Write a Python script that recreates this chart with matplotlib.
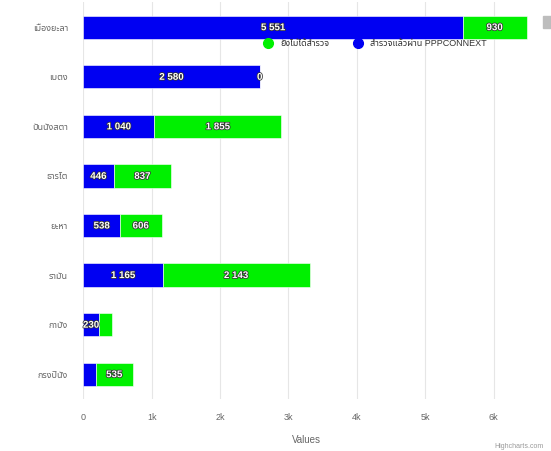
import matplotlib
matplotlib.use("Agg")
import matplotlib.pyplot as plt
import matplotlib.patheffects as pe
from matplotlib.lines import Line2D
from matplotlib.patches import Rectangle

plt.rcParams['font.family'] = ['Liberation Sans', 'Noto Sans Thai', 'DejaVu Sans']

# districts, top to bottom
districts = ['เมืองยะลา', 'เบตง', 'บันนังสตา', 'ธารโต', 'ยะหา', 'รามัน', 'กาบัง', 'กรงปินัง']
# blue series (base of the stack) and green series (stacked on top)
surveyed = [5551, 2580, 1040, 446, 538, 1165, 230, 185]
not_surveyed = [930, 0, 1855, 837, 606, 2143, 190, 535]
series_names = ['ยังไม่ได้สำรวจ', 'สำรวจแล้วผ่าน PPPCONNEXT']
xticks = [0, 1000, 2000, 3000, 4000, 5000, 6000, 7000]
xtick_labels = ['0', '1k', '2k', '3k', '4k', '5k', '6k', '7k']

blue = '#0000f2'
green = '#00f000'

fig = plt.figure(figsize=(5.51, 4.51), dpi=100)
W, H = 551, 451
# plot area in pixels (right edge runs past the image, as in the reference)
left, right, top, bottom = 83.3, 562, 2.4, 399
ax = fig.add_axes([left / W, 1 - bottom / H, (right - left) / W, (bottom - top) / H])

ypos = list(range(len(districts)))
ax.barh(ypos, surveyed, height=0.47, color=blue, edgecolor='white', linewidth=0.4, zorder=3)
ax.barh(ypos, not_surveyed, left=surveyed, height=0.47, color=green,
        edgecolor='white', linewidth=0.4, zorder=3)

outline = [pe.withStroke(linewidth=1.1, foreground='#333333')]

def fmt(v):
    return f'{v:,}'.replace(',', ' ')

# data labels (small segments don't get one, like the source chart)
for i in ypos:
    b, g = surveyed[i], not_surveyed[i]
    if b >= 200:
        ax.text(b / 2, i, fmt(b), ha='center', va='center', color='white',
                fontsize=7, fontweight='bold', path_effects=outline, zorder=5)
    if g >= 200 or g == 0:
        ax.text(b + g / 2, i, fmt(g), ha='center', va='center', color='white',
                fontsize=7, fontweight='bold', path_effects=outline, zorder=5)

ax.set_xlim(0, 7000)
ax.set_ylim(len(districts) - 0.5, -0.5)
ax.set_xticks(xticks)
ax.set_xticklabels(xtick_labels, fontsize=6.5, color='#666666')
ax.set_yticks(ypos)
ax.set_yticklabels(districts, fontsize=6.5, color='#666666')
ax.tick_params(axis='both', length=0)
ax.tick_params(axis='y', pad=11)
ax.tick_params(axis='x', pad=10)
ax.grid(axis='x', color='#e6e6e6', linewidth=0.8, zorder=0)
for s in ax.spines.values():
    s.set_visible(False)
ax.set_xlabel('Values', fontsize=7, color='#666666')
# centre the axis title on the visible part of the axis
ax.xaxis.set_label_coords((306 - left) / (right - left), -0.09)

handles = [
    Line2D([], [], marker='o', linestyle='none', markersize=7, color=green),
    Line2D([], [], marker='o', linestyle='none', markersize=7, color=blue),
]
fig.legend(handles, series_names, loc='center', bbox_to_anchor=(373 / W, 1 - 44 / H),
           ncol=2, frameon=False, fontsize=6.5, handletextpad=0.3, columnspacing=2.2,
           labelcolor='#333333')

# export button and credits
fig.patches.append(Rectangle((543 / W, 1 - 28 / H), 9 / W, 12 / H,
                             transform=fig.transFigure, color='#bdbdbd', zorder=10))
fig.text(494 / W, 1 - 447 / H, 'Highcharts.com', fontsize=5, color='#999999',
         ha='left', va='center')

fig.savefig('out.png', dpi=100)
